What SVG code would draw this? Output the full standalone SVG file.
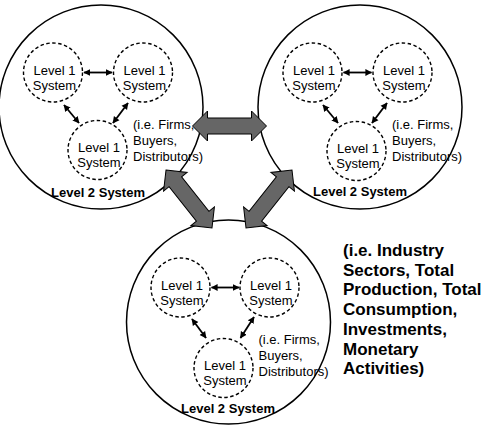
<svg xmlns="http://www.w3.org/2000/svg" width="485" height="431" viewBox="0 0 485 431">
<defs>
<marker id="ah" viewBox="0 0 10 10" refX="9" refY="5" markerWidth="3.8" markerHeight="4.6" orient="auto-start-reverse" markerUnits="strokeWidth">
<path d="M0,0 L10,5 L0,10 z" fill="#000"/>
</marker>
<polygon id="big" points="-37,0 -22,-15 -22,-8 22,-8 22,-15 37,0 22,15 22,8 -22,8 -22,15"/>
</defs>
<style>
.l2{fill:none;stroke:#000;stroke-width:1.5}
.l1{fill:none;stroke:#000;stroke-width:1.4;stroke-dasharray:3.5,2.5}
.t{font-family:"Liberation Sans",Arial,sans-serif;font-size:13px;fill:#000}
.m{text-anchor:middle}
.b{font-family:"Liberation Sans",Arial,sans-serif;font-weight:bold;fill:#000}
.sa{stroke:#000;stroke-width:1.8;fill:none;marker-start:url(#ah);marker-end:url(#ah)}
.ba{fill:#666;stroke:#000;stroke-width:1}
</style>
<rect width="485" height="431" fill="#fff"/>

<g id="left-system">
<circle class="l2" cx="101" cy="107" r="102"/>
<g id="left-l1-a"><circle class="l1" cx="53" cy="72.5" r="29.5"/><text class="t m" x="54.5" y="74.5">Level 1</text><text class="t m" x="54.5" y="89.5">System</text></g>
<g id="left-l1-b"><circle class="l1" cx="143" cy="72.5" r="29.5"/><text class="t m" x="144.5" y="74.5">Level 1</text><text class="t m" x="144.5" y="89.5">System</text></g>
<g id="left-l1-c"><circle class="l1" cx="97.5" cy="150" r="29.5"/><text class="t m" x="99" y="152">Level 1</text><text class="t m" x="99" y="167">System</text></g>
<text class="t" x="133" y="129">(i.e. Firms,</text>
<text class="t" x="133" y="145">Buyers,</text>
<text class="t" x="133" y="161">Distributors)</text>
<text class="b m" x="98" y="197" font-size="13">Level 2 System</text>
</g>

<g id="right-system">
<circle class="l2" cx="360" cy="107" r="102"/>
<g id="right-l1-a"><circle class="l1" cx="312.5" cy="72.5" r="29.5"/><text class="t m" x="314" y="74.5">Level 1</text><text class="t m" x="314" y="89.5">System</text></g>
<g id="right-l1-b"><circle class="l1" cx="402.5" cy="72.5" r="29.5"/><text class="t m" x="404" y="74.5">Level 1</text><text class="t m" x="404" y="89.5">System</text></g>
<g id="right-l1-c"><circle class="l1" cx="356.5" cy="151" r="29.5"/><text class="t m" x="358" y="153">Level 1</text><text class="t m" x="358" y="168">System</text></g>
<text class="t" x="392" y="129">(i.e. Firms,</text>
<text class="t" x="392" y="145">Buyers,</text>
<text class="t" x="392" y="161">Distributors)</text>
<text class="b m" x="360" y="196" font-size="13">Level 2 System</text>
</g>

<g id="bottom-system">
<circle class="l2" cx="228.5" cy="322" r="102"/>
<g id="bottom-l1-a"><circle class="l1" cx="180.5" cy="287.5" r="29.5"/><text class="t m" x="182" y="289.5">Level 1</text><text class="t m" x="182" y="304.5">System</text></g>
<g id="bottom-l1-b"><circle class="l1" cx="269.5" cy="287.5" r="29.5"/><text class="t m" x="271" y="289.5">Level 1</text><text class="t m" x="271" y="304.5">System</text></g>
<g id="bottom-l1-c"><circle class="l1" cx="223.5" cy="368" r="29.5"/><text class="t m" x="225" y="370">Level 1</text><text class="t m" x="225" y="385">System</text></g>
<text class="t" x="258.5" y="344">(i.e. Firms,</text>
<text class="t" x="258.5" y="360">Buyers,</text>
<text class="t" x="258.5" y="376">Distributors)</text>
<text class="b m" x="228" y="413" font-size="13">Level 2 System</text>
</g>

<g id="economy-label" class="b" font-size="17">
<text x="343" y="256">(i.e. Industry</text>
<text x="343" y="275.7">Sectors, Total</text>
<text x="343" y="295.4">Production, Total</text>
<text x="343" y="315.1">Consumption,</text>
<text x="343" y="334.8">Investments,</text>
<text x="343" y="354.5">Monetary</text>
<text x="343" y="374.2">Activities)</text>
</g>

<g id="connectors">
<line class="sa" x1="84" y1="72.5" x2="112" y2="72.5"/>
<line class="sa" x1="64" y1="105" x2="79" y2="123"/>
<line class="sa" x1="128" y1="103" x2="113" y2="123"/>
<line class="sa" x1="343.5" y1="72.5" x2="371.5" y2="72.5"/>
<line class="sa" x1="323" y1="105" x2="338" y2="123"/>
<line class="sa" x1="387" y1="103" x2="372" y2="123"/>
<line class="sa" x1="211.5" y1="287.5" x2="239" y2="287.5"/>
<line class="sa" x1="192" y1="319" x2="206" y2="338"/>
<line class="sa" x1="254" y1="317" x2="240.5" y2="338"/>
<use href="#big" class="ba" transform="translate(229.5,126)"/>
<use href="#big" class="ba" transform="translate(189,199) rotate(51.6)"/>
<use href="#big" class="ba" transform="translate(269,199) rotate(128.4)"/>
</g>
</svg>
